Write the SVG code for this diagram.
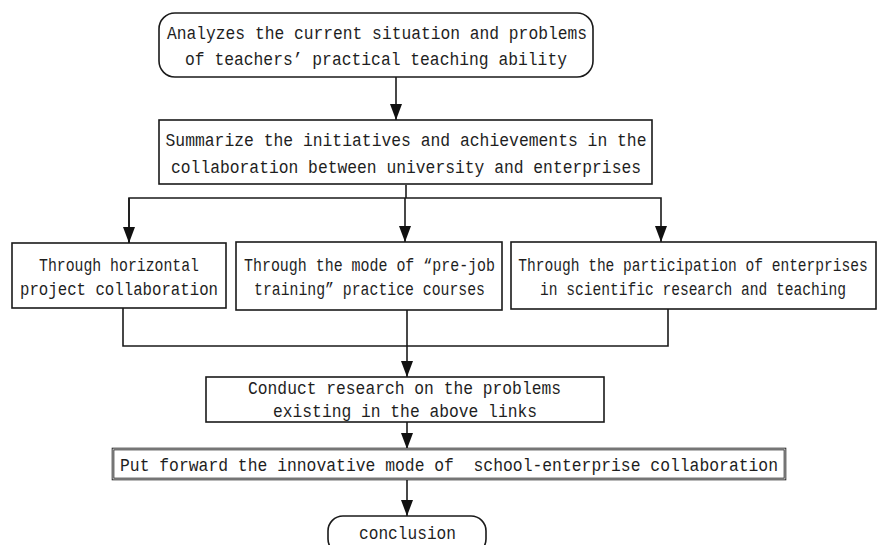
<svg xmlns="http://www.w3.org/2000/svg" width="880" height="545" viewBox="0 0 880 545">
<style>
  .box{fill:#fff;stroke:#1a1a1a;stroke-width:1.6}
  .ln{fill:none;stroke:#1a1a1a;stroke-width:1.6}
  text{font-family:"Liberation Mono","Courier New",monospace;font-size:18px;fill:#1e1e1e;text-anchor:middle;white-space:pre}
</style>
<defs>
  <marker id="ah" markerUnits="userSpaceOnUse" markerWidth="16" markerHeight="12" viewBox="0 0 16 12" refX="16" refY="6" orient="auto">
    <path d="M0,0 L16,6 L0,12 z" fill="#111"/>
  </marker>
</defs>
<g id="connectors">
  <line class="ln" x1="396" y1="77" x2="396" y2="120" marker-end="url(#ah)"/>
  <polyline class="ln" points="406,185 406,198"/>
  <polyline class="ln" points="129,243 129,198 661,198 661,242" marker-end="url(#ah)"/>
  <line class="ln" x1="129" y1="198" x2="129" y2="243" marker-end="url(#ah)"/>
  <line class="ln" x1="405" y1="198" x2="405" y2="242" marker-end="url(#ah)"/>
  <polyline class="ln" points="123,308 123,346 668,346 668,309"/>
  <line class="ln" x1="407" y1="310" x2="407" y2="346"/>
  <line class="ln" x1="407" y1="346" x2="407" y2="377" marker-end="url(#ah)"/>
  <line class="ln" x1="407" y1="422" x2="407" y2="449" marker-end="url(#ah)"/>
  <line class="ln" x1="407" y1="480" x2="407" y2="516" marker-end="url(#ah)"/>
</g>
<g id="n1">
  <rect class="box" x="159" y="13" width="434" height="64" rx="16"/>
  <text x="377" y="39" textLength="420" lengthAdjust="spacingAndGlyphs">Analyzes the current situation and problems</text>
  <text x="376" y="65" textLength="382" lengthAdjust="spacingAndGlyphs">of teachers’ practical teaching ability</text>
</g>
<g id="n2">
  <rect class="box" x="159" y="120" width="493" height="64"/>
  <text x="406" y="146" textLength="481" lengthAdjust="spacingAndGlyphs">Summarize the initiatives and achievements in the</text>
  <text x="406" y="173" textLength="470" lengthAdjust="spacingAndGlyphs">collaboration between university and enterprises</text>
</g>
<g id="n3">
  <rect class="box" x="12" y="243" width="214" height="65"/>
  <text x="119" y="271" textLength="160" lengthAdjust="spacingAndGlyphs">Through horizontal</text>
  <text x="119" y="295" textLength="198" lengthAdjust="spacingAndGlyphs">project collaboration</text>
</g>
<g id="n4">
  <rect class="box" x="236" y="242" width="266" height="68"/>
  <text x="369.5" y="271" textLength="251" lengthAdjust="spacingAndGlyphs">Through the mode of “pre-job</text>
  <text x="369.5" y="295" textLength="231" lengthAdjust="spacingAndGlyphs">training” practice courses</text>
</g>
<g id="n5">
  <rect class="box" x="511" y="242" width="365" height="67"/>
  <text transform="translate(693,271) scale(0.81,1)" x="0" y="0">Through the participation of enterprises</text>
  <text transform="translate(693,295) scale(0.81,1)" x="0" y="0">in scientific research and teaching</text>
</g>
<g id="n6">
  <rect class="box" x="206" y="377" width="398" height="45"/>
  <text x="404.5" y="394" textLength="313" lengthAdjust="spacingAndGlyphs">Conduct research on the problems</text>
  <text x="405" y="417" textLength="264" lengthAdjust="spacingAndGlyphs">existing in the above links</text>
</g>
<g id="n7">
  <rect x="113" y="449" width="672" height="30" fill="#fff" stroke="#1a1a1a" stroke-width="2.6"/>
  <rect x="113" y="449" width="672" height="30" fill="none" stroke="#fff" stroke-width="0.8"/>
  <text x="449" y="471" textLength="658" lengthAdjust="spacingAndGlyphs">Put forward the innovative mode of  school-enterprise collaboration</text>
</g>
<g id="n8">
  <rect class="box" x="328" y="516" width="158" height="38" rx="15"/>
  <text x="407.5" y="539" textLength="97" lengthAdjust="spacingAndGlyphs">conclusion</text>
</g>
</svg>
